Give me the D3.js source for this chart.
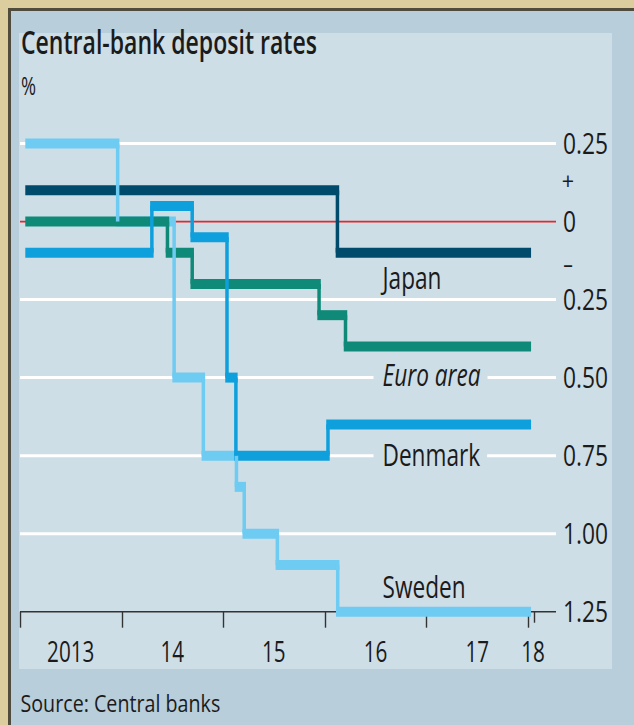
<!DOCTYPE html>
<html><head><meta charset="utf-8">
<script src="https://cdn.jsdelivr.net/npm/d3@7"></script>
<style>html,body{margin:0;padding:0;background:#dccd9e;} svg{display:block;}</style>
</head><body><svg id="c" width="634" height="725"></svg>
<script>
// ---------------- data ----------------
const yTickValues = [0.25, 0, -0.25, -0.5, -0.75, -1, -1.25];
const yTickLabels = ["0.25", "0", "0.25", "0.50", "0.75", "1.00", "1.25"];
const xTickDates  = ["2013-01-01", "2014-01-01", "2015-01-01", "2016-01-01", "2017-01-01", "2018-01-01"];
const xTickLabels = ["2013", "14", "15", "16", "17", "18"];
const dataEndTick = "2018-01-22";
const dataStart = "2013-01-20";
const dataEnd   = "2018-01-12";

const swedenDates  = [dataStart, "2013-12-18", "2014-07-09", "2014-10-22", "2015-02-18", "2015-03-18", "2015-07-15", "2016-02-17"];
const swedenValues = [0.25, 0, -0.5, -0.75, -0.85, -1.0, -1.1, -1.25];

const denmarkDates  = [dataStart, "2014-04-20", "2014-09-12", "2015-01-15", "2015-02-16", "2016-01-13"];
const denmarkValues = [-0.1, 0.05, -0.05, -0.5, -0.75, -0.65];

const japanDates  = [dataStart, "2016-02-16"];
const japanValues = [0.1, -0.1];

const euroDates  = [dataStart, "2014-06-15", "2014-09-12", "2015-12-12", "2016-03-16"];
const euroValues = [0, -0.1, -0.2, -0.3, -0.4];

const seriesNames  = ["Sweden", "Denmark", "Japan", "Euro area"];
const seriesColors = ["#6ecbf2", "#0ea0dc", "#004a6b", "#0f8a78"];

// ---------------- setup ----------------
const parse = d3.timeParse("%Y-%m-%d");
const series = [
  {name: seriesNames[0], color: seriesColors[0], dates: swedenDates,  values: swedenValues},
  {name: seriesNames[1], color: seriesColors[1], dates: denmarkDates, values: denmarkValues},
  {name: seriesNames[2], color: seriesColors[2], dates: japanDates,   values: japanValues},
  {name: seriesNames[3], color: seriesColors[3], dates: euroDates,    values: euroValues}
];

const svg = d3.select("#c");
const FONT = "'Open Sans', 'Noto Sans', sans-serif";
const INK = "#1b1b1b";

const x = d3.scaleTime().domain([parse("2013-01-01"), parse("2018-01-01")]).range([20, 528]);
const y = d3.scaleLinear().domain([0.25, -1.25]).range([143.5, 611.7]);

const gridLeft = 20, gridRight = 556;

function txt(parent, px, py, str, o) {
  const g = parent.append("g").attr("transform", `translate(${px},${py}) scale(${o.scale || 1},1)`);
  const t = g.append("text")
    .attr("x", 0).attr("y", 0)
    .attr("text-anchor", o.anchor || "start")
    .style("font-family", FONT)
    .style("font-size", o.size + "px")
    .style("font-weight", o.weight || 400)
    .style("font-style", o.style || "normal")
    .style("fill", o.fill || INK)
    .text(str);
  return {g, t, width: () => t.node().getComputedTextLength() * (o.scale || 1)};
}

// ---------------- frame ----------------
svg.append("rect").attr("x", 0).attr("y", 0).attr("width", 634).attr("height", 725).attr("fill", "#dccd9e");
svg.append("rect").attr("x", 9.5).attr("y", 9.5).attr("width", 700).attr("height", 800)
  .attr("fill", "#b8cedb").attr("stroke", "#4f4c3d").attr("stroke-width", 3);
svg.append("rect").attr("x", 19).attr("y", 33).attr("width", 593).attr("height", 636).attr("fill", "#cedee7");

// ---------------- titles ----------------
txt(svg, 21, 54, "Central-bank deposit rates", {size: 32, scale: 0.72, weight: 600});
txt(svg, 21, 95, "%", {size: 26, scale: 0.7});
txt(svg, 20.5, 712, "Source: Central banks", {size: 24, scale: 0.82});

// ---------------- grid ----------------
const grid = svg.append("g");
yTickValues.forEach((v, i) => {
  if (v === 0 || i === yTickValues.length - 1) return;
  grid.append("line")
    .attr("x1", gridLeft).attr("x2", gridRight)
    .attr("y1", y(v)).attr("y2", y(v))
    .attr("stroke", "#ffffff").attr("stroke-width", 3);
});
grid.append("line")
  .attr("x1", gridLeft).attr("x2", gridRight)
  .attr("y1", y(0)).attr("y2", y(0))
  .attr("stroke", "#e3262f").attr("stroke-width", 1.8);

// ---------------- x axis ----------------
const axisY = y(yTickValues[yTickValues.length - 1]);
const axis = svg.append("g");
axis.append("line").attr("x1", gridLeft).attr("x2", gridRight).attr("y1", axisY).attr("y2", axisY)
  .attr("stroke", "#333333").attr("stroke-width", 1.6);
xTickDates.forEach((d, i) => {
  const tx = Math.round(x(parse(d))) + 0.5;
  axis.append("line").attr("x1", tx).attr("x2", tx).attr("y1", axisY).attr("y2", axisY + 16)
    .attr("stroke", "#333333").attr("stroke-width", 1.4);
  let lx;
  if (i < xTickDates.length - 1) lx = (x(parse(d)) + x(parse(xTickDates[i + 1]))) / 2;
  else lx = x(parse(d)) + 5;
  txt(svg, lx, 662, xTickLabels[i], {size: 30, scale: 0.69, anchor: "middle"});
});
{
  const tx = Math.round(x(parse(dataEndTick))) + 0.5;
  axis.append("line").attr("x1", tx).attr("x2", tx).attr("y1", axisY).attr("y2", axisY + 11)
    .attr("stroke", "#333333").attr("stroke-width", 1.4);
}

// ---------------- y labels (right) ----------------
yTickValues.forEach((v, i) => {
  txt(svg, 563, y(v) + 10.7, yTickLabels[i], {size: 30, scale: 0.76});
});
txt(svg, 568, 190, "+", {size: 24, scale: 0.9, anchor: "middle"});
txt(svg, 568, 273, "–", {size: 24, scale: 0.8, anchor: "middle"});

// ---------------- series labels ----------------
const labelLayer = svg.append("g");
function seriesLabel(name, baseline, gridValue, italic) {
  const bg = labelLayer.append("rect");
  const l = txt(labelLayer, 382.5, baseline, name, {size: 31, scale: 0.73, style: italic ? "italic" : "normal"});
  if (gridValue !== null) {
    const w = l.width();
    bg.attr("x", 382.5 - 9).attr("width", w + 16)
      .attr("y", y(gridValue) - 3).attr("height", 6).attr("fill", "#cedee7");
  }
}
seriesLabel("Japan", 288.5, null, false);
seriesLabel("Euro area", 386, -0.5, true);
seriesLabel("Denmark", 466, -0.75, false);
seriesLabel("Sweden", 598, null, false);

// ---------------- series lines ----------------
const HW = 10;   // horizontal stroke
const VW = 3.5;  // vertical stroke
const hLayer = svg.append("g");
const vLayer = svg.append("g");

series.forEach(s => {
  const dates = s.dates.map(parse);
  const end = parse(dataEnd);
  const n = dates.length;
  dates.forEach((d, i) => {
    const xa = x(d) - (i > 0 ? VW / 2 : 0);
    const xb = x(i < n - 1 ? dates[i + 1] : end) + (i < n - 1 ? VW / 2 : 0);
    hLayer.append("line")
      .attr("x1", xa).attr("x2", xb)
      .attr("y1", y(s.values[i])).attr("y2", y(s.values[i]))
      .attr("stroke", s.color).attr("stroke-width", HW).attr("stroke-linecap", "butt");
    if (i > 0) {
      vLayer.append("line")
        .attr("x1", x(d)).attr("x2", x(d))
        .attr("y1", y(s.values[i - 1])).attr("y2", y(s.values[i]))
        .attr("stroke", s.color).attr("stroke-width", VW).attr("stroke-linecap", "butt");
    }
  });
});
</script>
</body></html>
